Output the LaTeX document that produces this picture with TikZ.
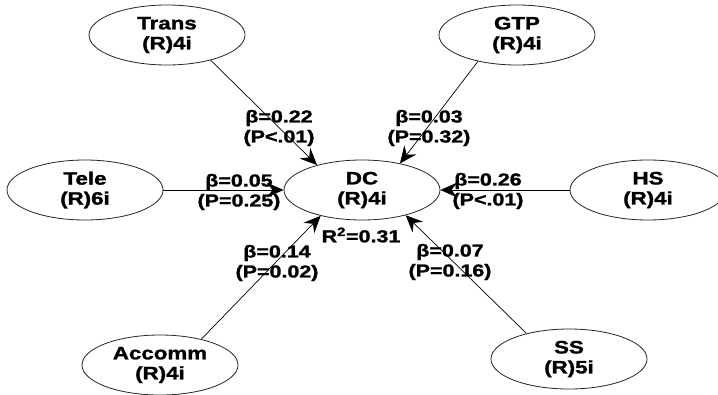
\documentclass[tikz,border=0pt]{standalone}
\usepackage{fontspec}
\setmainfont{Liberation Sans}
\newfontfamily\heavy[FakeBold=1.3]{Liberation Sans Bold}
\usepackage{graphicx}
\usetikzlibrary{shapes.geometric,arrows.meta}
\newcommand\wide[1]{\scalebox{1.24}[1]{#1}}
\begin{document}
\begin{tikzpicture}[x=1pt,y=-1pt,
  lv/.style={ellipse,draw=black!85,line width=0.8pt,minimum width=156pt,minimum height=60pt,
    inner sep=0pt,font=\fontsize{18}{20}\selectfont\heavy,align=center},
  lab/.style={font=\fontsize{17.3}{20}\selectfont\heavy,align=center,inner sep=0pt},
  conn/.style={draw=black,line width=0.7pt,-{Stealth[length=17pt,width=15pt,inset=6pt]}}]
\useasboundingbox[fill=white] (0,0) rectangle (718,394);
\node[lv] (dc) at (362,190) {\wide{DC}\\\wide{(R)4i}};
\node[lv] (trans) at (167,35) {\wide{Trans}\\\wide{(R)4i}};
\node[lv] (gtp) at (517,35) {\wide{GTP}\\\wide{(R)4i}};
\node[lv] (tele) at (85,190) {\wide{Tele}\\\wide{(R)6i}};
\node[lv] (hs) at (648,190) {\wide{HS}\\\wide{(R)4i}};
\node[lv] (acc) at (160,365) {\wide{Accomm}\\\wide{(R)4i}};
\node[lv] (ss) at (569,359) {\wide{SS}\\\wide{(R)5i}};
\draw[conn] (trans.-30) -- (dc.151);
\draw[conn] (gtp.-146) -- (dc.35);
\draw[conn] (tele.0) -- (dc.180);
\draw[conn] (hs.180) -- (dc.0);
\draw[conn] (acc.32) -- (dc.-148);
\draw[conn] (ss.149) -- (dc.-30);
\node[lab] (l1) at (279,128) {\wide{β=0.22}\\\wide{(P<.01)}};
\node[lab] (l2) at (429,128) {\wide{β=0.03}\\\wide{(P=0.32)}};
\node[lab] (l3) at (239,192) {\wide{β=0.05}\\\wide{(P=0.25)}};
\node[lab] (l4) at (488,191) {\wide{β=0.26}\\\wide{(P<.01)}};
\node[lab] (l5) at (277,263) {\wide{β=0.14}\\\wide{(P=0.02)}};
\node[lab] (l6) at (450,262) {\wide{β=0.07}\\\wide{(P=0.16)}};
\node[lab] (r2) at (361,235) {\wide{R\textsuperscript{2}=0.31}};
\end{tikzpicture}
\end{document}
